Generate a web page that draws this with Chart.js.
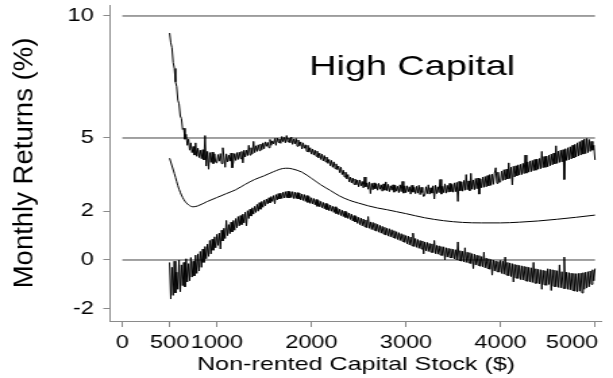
<!DOCTYPE html>
<html><head><meta charset="utf-8">
<script src="https://cdn.jsdelivr.net/npm/chart.js@4.4.1/dist/chart.umd.min.js"></script>
<style>
html,body{margin:0;padding:0;background:#fff;overflow:hidden;}
#wrap{position:absolute;left:0;top:0;width:454px;height:378px;transform:scaleX(1.35022);transform-origin:0 0;}
</style></head><body>
<div id="wrap"><canvas id="c"></canvas></div>
<script>
// ---- data ----
const xTickValues = [0, 500, 1000, 2000, 3000, 4000, 5000];
const yTickValues = [-2, 0, 2, 5, 10];
const referenceLevels = [10, 5, 0];
const referenceSpan = [0, 5000];
const gridStart = 500, gridStep = 12.5;   // capital grid of the two band series (500 ... 5000)
const upperBand = [
 9.3, 8.9, 8.7, 8.1, 7.85, 7.3, 7.1, 6.55, 6.4, 5.9, 5.8, 5.35, 5.4, 4.95, 5.15, 4.7, 4.95, 4.5, 4.8, 4.4,
 4.65, 4.3, 4.8, 4.25, 4.58, 4.2, 4.5, 4.15, 4.52, 4.1, 5.1, 3.85, 4.45, 3.72, 4.4, 4.0, 4.42, 3.95, 4.35, 4.0,
 3.98, 4.32, 4.05, 4.36, 3.95, 4.6, 4.22, 3.8, 4.35, 4.02, 4.3, 4.05, 4.38, 3.78, 4.02, 4.36, 4.08, 4.4, 4.12, 4.42,
 4.15, 4.45, 3.98, 4.5, 4.22, 4.5, 4.28, 4.7, 4.3, 4.6, 4.35, 4.86, 4.4, 4.68, 4.45, 4.72, 4.48, 4.75, 4.52, 4.8,
 4.56, 4.84, 4.66, 4.82, 4.6, 4.94, 4.7, 4.88, 4.76, 4.98, 4.7, 5.0, 4.82, 4.96, 4.78, 5.06, 4.85, 5.02, 4.8, 5.1,
 4.84, 5.0, 4.8, 5.04, 4.74, 4.96, 4.76, 4.98, 4.66, 4.92, 4.68, 4.84, 4.55, 4.8, 4.58, 4.72, 4.45, 4.7, 4.42, 4.6,
 4.34, 4.55, 4.3, 4.5, 4.25, 4.46, 4.18, 4.38, 4.12, 4.34, 4.06, 4.28, 4.02, 4.22, 3.96, 4.12, 3.86, 4.08, 3.8, 4.02,
 3.74, 3.94, 3.7, 3.85, 3.58, 3.8, 3.5, 3.68, 3.4, 3.6, 3.32, 3.5, 3.2, 3.4, 3.16, 3.36, 3.1, 3.32, 3.08, 3.28,
 3.0, 3.28, 3.04, 3.22, 2.96, 3.4, 3.0, 3.16, 2.9, 3.2, 2.72, 3.14, 2.88, 3.16, 2.92, 3.12, 2.86, 3.14, 2.9, 3.08,
 2.82, 3.12, 2.86, 3.2, 2.84, 3.1, 2.8, 3.04, 2.86, 3.08, 2.78, 3.06, 2.82, 3.02, 2.76, 3.08, 2.8, 3.22, 2.74, 3.04,
 2.76, 3.04, 2.8, 3.0, 2.7, 3.06, 2.78, 2.98, 2.72, 3.02, 2.74, 3.06, 2.68, 2.98, 2.76, 2.6, 2.66, 3.0, 2.72, 3.08,
 2.7, 2.96, 2.74, 3.04, 2.5, 3.06, 2.72, 3.0, 2.76, 3.3, 2.7, 3.02, 2.76, 3.12, 2.74, 3.06, 2.78, 3.14, 2.8, 3.1,
 2.78, 3.16, 2.8, 3.18, 2.4, 3.22, 2.84, 3.2, 2.82, 3.26, 2.86, 3.5, 2.88, 3.24, 2.84, 3.55, 2.9, 3.28, 2.88, 3.34,
 2.92, 3.36, 2.7, 3.32, 2.96, 3.4, 2.98, 3.42, 3.0, 3.46, 3.04, 3.5, 3.06, 3.52, 3.1, 3.56, 3.78, 3.14, 3.6, 3.18,
 3.2, 3.64, 3.26, 3.7, 3.28, 3.72, 3.32, 3.98, 3.34, 3.8, 3.08, 3.84, 3.4, 3.86, 3.45, 3.9, 3.48, 3.92, 3.5, 3.96,
 3.54, 4.3, 3.56, 4.02, 3.6, 4.06, 3.62, 4.08, 3.66, 4.12, 3.68, 4.14, 3.72, 4.16, 3.74, 4.45, 3.78, 4.24, 3.8, 4.26,
 3.82, 4.3, 3.86, 4.34, 3.9, 4.38, 3.94, 4.68, 3.96, 4.46, 4.0, 4.5, 4.02, 4.52, 3.3, 4.56, 4.08, 4.6, 4.1, 4.64,
 4.14, 4.7, 4.18, 4.74, 4.22, 4.8, 4.26, 4.85, 4.3, 4.9, 4.34, 4.96, 4.36, 4.98, 4.4, 4.94, 4.45, 4.86, 4.5, 4.7,
 4.1
];
const lowerBand = [
 -0.1, -1.6, -0.3, -1.45, -0.05, -1.35, -0.5, -1.2, 0.0, -1.3, -0.2, -1.05, -0.1, -1.1, 0.05, -0.9, -0.15, -0.85, 0.1, -0.7,
 -0.05, -0.65, 0.2, -0.55, 0.25, -0.45, 0.35, -0.3, 0.45, -0.1, 0.55, 0.05, 0.65, 0.15, 0.8, 0.25, 0.85, 0.4, 0.95, 0.5,
 1.05, 0.6, 1.1, 0.45, 1.22, 0.78, 1.3, 0.88, 1.62, 1.0, 1.45, 1.08, 1.55, 1.15, 1.62, 1.22, 1.7, 1.32, 1.78, 1.4,
 1.82, 1.45, 1.88, 1.52, 1.96, 1.4, 2.02, 1.7, 2.08, 1.8, 2.14, 1.88, 2.2, 1.95, 2.28, 2.0, 2.35, 2.08, 2.4, 2.16,
 2.46, 2.22, 2.5, 2.3, 2.55, 2.34, 2.6, 2.4, 2.64, 2.3, 2.68, 2.46, 2.72, 2.5, 2.74, 2.52, 2.78, 2.54, 2.8, 2.55,
 2.82, 2.54, 2.8, 2.56, 2.8, 2.52, 2.78, 2.52, 2.76, 2.5, 2.74, 2.46, 2.7, 2.44, 2.68, 2.4, 2.64, 2.36, 2.6, 2.32,
 2.55, 2.3, 2.52, 2.26, 2.48, 2.2, 2.44, 2.18, 2.4, 2.14, 2.36, 2.1, 2.32, 2.06, 2.28, 2.02, 2.25, 2.0, 2.2, 1.95,
 2.18, 1.9, 2.12, 1.86, 2.08, 1.82, 2.04, 1.78, 2.0, 1.74, 1.95, 1.7, 1.92, 1.66, 1.88, 1.6, 1.82, 1.56, 1.78, 1.5,
 1.75, 1.45, 1.72, 1.4, 1.68, 1.36, 1.64, 1.32, 1.78, 1.3, 1.56, 1.25, 1.54, 1.22, 1.5, 1.18, 1.46, 1.14, 1.42, 1.1,
 1.38, 1.06, 1.34, 1.02, 1.3, 0.98, 1.28, 0.95, 1.24, 0.92, 1.2, 0.88, 1.16, 0.84, 1.12, 0.8, 1.08, 0.76, 1.04, 0.72,
 1.0, 0.66, 0.98, 0.62, 0.94, 0.58, 1.1, 0.55, 0.88, 0.52, 0.84, 0.48, 0.8, 0.45, 0.78, 0.25, 0.74, 0.38, 0.72, 0.35,
 0.68, 0.32, 0.66, 0.3, 0.8, 0.26, 0.6, 0.24, 0.58, 0.2, 0.55, 0.18, 0.54, 0.0, 0.5, 0.12, 0.48, 0.1, 0.46, 0.08,
 0.44, 0.04, 0.42, 0.0, 0.74, -0.02, 0.38, -0.05, 0.36, -0.08, 0.5, -0.1, 0.32, -0.12, 0.3, -0.15, 0.26, -0.35, 0.24, -0.2,
 0.2, -0.22, 0.18, -0.26, 0.14, -0.28, 0.32, -0.32, 0.08, -0.35, 0.05, -0.38, 0.02, -0.62, 0.0, -0.45, -0.04, -0.48, -0.06, -0.5,
 -0.02, -0.55, -0.05, -0.58, 0.12, -0.62, -0.1, -0.65, -0.12, -0.68, -0.15, -0.9, -0.18, -0.74, -0.2, -0.76, -0.22, -0.8, -0.24, -0.82,
 -0.26, -0.85, -0.28, -0.88, -0.3, -0.9, -0.32, -0.92, -0.1, -0.95, -0.36, -0.96, -0.38, -0.98, -0.4, -1.2, -0.42, -1.02, -0.44, -1.04,
 -0.36, -1.0, -0.38, -1.25, -0.4, -1.08, -0.42, -1.1, -0.44, -1.12, -0.2, -1.14, -0.48, -1.16, 0.12, -1.18, -0.5, -1.2, -0.52, -1.22,
 -0.54, -1.25, -0.55, -1.28, -0.56, -1.3, -0.55, -1.28, -0.54, -1.35, -0.52, -1.2, -0.5, -1.15, -0.48, -1.1, -0.45, -1.0, -0.4, -0.85,
 -0.35
];
const midCapital = [500, 550, 600, 650, 700, 750, 800, 900, 1000, 1100, 1200, 1300, 1400, 1500, 1600, 1700, 1750, 1800, 1900, 2000,
 2100, 2200, 2300, 2400, 2500, 2600, 2700, 2800, 2900, 3000, 3200, 3400, 3600, 3800, 4000, 4200, 4400, 4600, 4800, 5000];
const midReturn = [4.17, 3.55, 2.9, 2.48, 2.26, 2.18, 2.22, 2.4, 2.56, 2.72, 2.88, 3.1, 3.3, 3.45, 3.62, 3.75, 3.76, 3.73, 3.6, 3.35,
 3.08, 2.85, 2.62, 2.45, 2.33, 2.22, 2.13, 2.06, 1.98, 1.9, 1.73, 1.61, 1.54, 1.52, 1.52, 1.55, 1.6, 1.67, 1.75, 1.84];
const panelTitle = 'High Capital';
const panelTitleAt = [3066, 7.58];
const xTitle = 'Non-rented Capital Stock ($)';
const yTitle = 'Monthly Returns (%)';

// ---- styling ----
const STRETCH = 613 / 454;
const FAMILY = "'Liberation Sans', Arial, Helvetica, sans-serif";
const AXIS_GRAY = '#8a8a8a';
const REF_GRAY = '#444444';

const bandPoints = arr => arr.map((v, i) => ({x: gridStart + i * gridStep, y: v}));
const line = (data, extra) => Object.assign({data, borderColor: '#000', borderWidth: 1, pointRadius: 0, fill: false, tension: 0}, extra || {});

const datasets = [
  line(bandPoints(upperBand), {label: 'Upper bound'}),
  line(bandPoints(lowerBand), {label: 'Lower bound'}),
  line(midCapital.map((x, i) => ({x, y: midReturn[i]})), {label: 'Estimate', cubicInterpolationMode: 'monotone'}),
  ...referenceLevels.map(l => line(referenceSpan.map(x => ({x, y: l})), {label: 'ref ' + l, borderColor: REF_GRAY}))
];

const overlayText = {
  id: 'overlayText',
  afterDraw(chart) {
    const {ctx, chartArea, scales: {x, y}} = chart;
    ctx.save();
    ctx.fillStyle = '#000';
    ctx.font = '28px ' + FAMILY;
    ctx.textAlign = 'center';
    ctx.textBaseline = 'alphabetic';
    ctx.fillText(panelTitle, x.getPixelForValue(panelTitleAt[0]), y.getPixelForValue(panelTitleAt[1]));
    ctx.restore();
    ctx.save();
    ctx.fillStyle = '#000';
    ctx.font = '27.5px ' + FAMILY;
    ctx.textAlign = 'center';
    ctx.textBaseline = 'alphabetic';
    ctx.translate(32 / STRETCH, (chartArea.top + chartArea.bottom) / 2);
    ctx.scale(1 / STRETCH, 1);
    ctx.rotate(-Math.PI / 2);
    ctx.fillText(yTitle, 0, 0);
    ctx.restore();
  }
};

new Chart(document.getElementById('c'), {
  type: 'line',
  data: {datasets},
  plugins: [overlayText],
  options: {
    responsive: true,
    maintainAspectRatio: false,
    animation: false,
    events: [],
    layout: {padding: {left: 0, right: 8.1, top: 5, bottom: 0}},
    plugins: {legend: {display: false}, tooltip: {enabled: false}, title: {display: false}},
    scales: {
      x: {
        type: 'linear', min: -130, max: 5075,
        afterBuildTicks: s => { s.ticks = xTickValues.map(v => ({value: v})); },
        afterFit: s => { s.height = 57; s.paddingLeft = 0; s.paddingRight = 0; },
        grid: {drawOnChartArea: false, drawTicks: true, tickLength: 6, color: AXIS_GRAY, lineWidth: 1},
        border: {display: true, color: AXIS_GRAY, width: 1},
        ticks: {
          autoSkip: false, maxRotation: 0, minRotation: 0, padding: 5.5, color: '#000',
          font: {family: FAMILY, size: 17.5},
          callback: v => v === 5000 ? '5000' + '\u00a0'.repeat(7) : String(v)
        },
        title: {display: true, text: xTitle, color: '#000', font: {family: FAMILY, size: 18.6}, padding: {top: 0, bottom: 2}}
      },
      y: {
        type: 'linear', min: -2.5, max: 10.45,
        afterBuildTicks: s => { s.ticks = yTickValues.map(v => ({value: v})); },
        afterFit: s => { s.width = 81.5; s.paddingTop = 0; s.paddingBottom = 0; },
        grid: {drawOnChartArea: false, drawTicks: true, tickLength: 5, color: AXIS_GRAY, lineWidth: 1},
        border: {display: true, color: AXIS_GRAY, width: 1},
        ticks: {padding: 7, color: '#000', font: {family: FAMILY, size: 17.5}, callback: v => String(v)},
        title: {display: false}
      }
    }
  }
});
</script>
</body></html>
